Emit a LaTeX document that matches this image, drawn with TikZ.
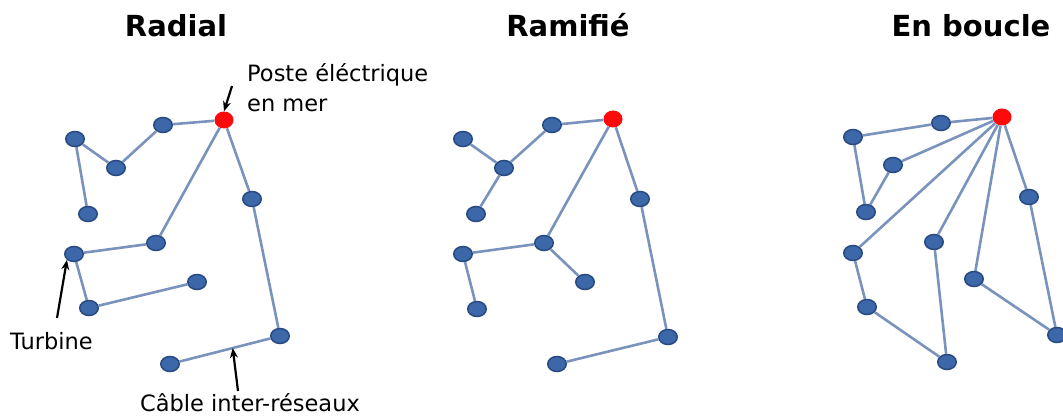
\documentclass[tikz,border=0pt]{standalone}
\usepackage{fontspec}
\setmainfont{DejaVu Sans}
\usepackage{tikz}
\usetikzlibrary{positioning,arrows.meta,shapes,calc}
\definecolor{wtBlue}{HTML}{3C68AA}
\definecolor{wtBlueDk}{HTML}{284A82}
\definecolor{wtLine}{HTML}{7A93BD}
\definecolor{wtRed}{HTML}{FF0A0A}
\tikzset{
  turbnode/.style={ellipse, draw=wtBlueDk, fill=wtBlue, line width=1.5pt,
                   minimum width=18.5pt, minimum height=15pt, inner sep=0pt},
  postenode/.style={ellipse, fill=wtRed, minimum width=19pt,
                    minimum height=17pt, inner sep=0pt},
  cableline/.style={draw=wtLine, line width=2.6pt},
  titletext/.style={font=\fontsize{29}{35}\selectfont\bfseries, anchor=base},
  lbltext/.style={font=\fontsize{22.5}{30}\selectfont, anchor=base west,
                  align=left, inner sep=0pt},
  lblarrow/.style={-{Stealth[length=10pt,width=8pt]}, line width=2.2pt},
}

\begin{document}
\begin{tikzpicture}[x=1pt, y=-1pt]
\useasboundingbox (0,0) rectangle (1063,419);

%% Titles
\node[titletext] (tRad) at (176,37) {Radial};
\node[titletext] (tRam) at (568,37) {Ramifié};
\node[titletext] (tBou) at (971,37) {En boucle};

%% Radial
\node[postenode] (r0) at (224,120) {};
\node[turbnode] (r1) at (163,125) {};
\node[turbnode] (r2) at (75,139) {};
\node[turbnode] (r3) at (116,168) {};
\node[turbnode] (r4) at (88,214) {};
\node[turbnode] (r5) at (74,254) {};
\node[turbnode] (r6) at (156,243) {};
\node[turbnode] (r7) at (89,308) {};
\node[turbnode] (r8) at (197,282) {};
\node[turbnode] (r9) at (252,199) {};
\node[turbnode] (r10) at (280,336) {};
\node[turbnode] (r11) at (170,364) {};
\draw[cableline] (r0) -- (r1) -- (r3) -- (r2) -- (r4);
\draw[cableline] (r0) -- (r6) -- (r5) -- (r7) -- (r8);
\draw[cableline] (r0) -- (r9) -- (r10) -- (r11);

%% Ramifie
\node[postenode] (a0) at (613,119) {};
\node[turbnode] (a1) at (552,125) {};
\node[turbnode] (a2) at (463,139) {};
\node[turbnode] (a3) at (504,168) {};
\node[turbnode] (a4) at (476,214) {};
\node[turbnode] (a5) at (463,254) {};
\node[turbnode] (a6) at (544,243) {};
\node[turbnode] (a7) at (477,309) {};
\node[turbnode] (a8) at (585,282) {};
\node[turbnode] (a9) at (640,199) {};
\node[turbnode] (a10) at (668,337) {};
\node[turbnode] (a11) at (557,364) {};
\draw[cableline] (a0) -- (a1) -- (a3) -- (a2);
\draw[cableline] (a3) -- (a4);
\draw[cableline] (a0) -- (a6) -- (a5) -- (a7);
\draw[cableline] (a6) -- (a8);
\draw[cableline] (a0) -- (a9) -- (a10) -- (a11);

%% En boucle
\node[postenode] (b0) at (1002,117) {};
\node[turbnode] (b1) at (941,123) {};
\node[turbnode] (b2) at (853,137) {};
\node[turbnode] (b3) at (893,165) {};
\node[turbnode] (b4) at (866,212) {};
\node[turbnode] (b5) at (853,253) {};
\node[turbnode] (b6) at (867,307) {};
\node[turbnode] (b7) at (934,242) {};
\node[turbnode] (b8) at (974,279) {};
\node[turbnode] (b9) at (1029,197) {};
\node[turbnode] (b10) at (1057,335) {};
\node[turbnode] (b11) at (947,362) {};
\draw[cableline] (b0) -- (b1) -- (b2) -- (b4) -- (b3) -- (b0);
\draw[cableline] (b0) -- (b5) -- (b6) -- (b11) -- (b7) -- (b0);
\draw[cableline] (b0) -- (b8) -- (b10) -- (b9) -- (b0);

%% Labels
\node[lbltext] (lPoste) at (247,112) {Poste éléctrique\\en mer};
\node[lbltext] (lTurb) at (10,350) {Turbine};
\node[lbltext] (lCable) at (140,412) {Câble inter-réseaux};
\coordinate (pPoste) at (232,86);
\coordinate (pTurb) at (57,318);
\coordinate (pCable) at (238,391);
\coordinate (qCable) at ($(r11)!0.57!(r10)$);
\draw[lblarrow] (pPoste) -- (r0.north);
\draw[lblarrow] (pTurb) -- (r5.south west);
\draw[lblarrow] (pCable) -- (qCable);
\end{tikzpicture}
\end{document}
